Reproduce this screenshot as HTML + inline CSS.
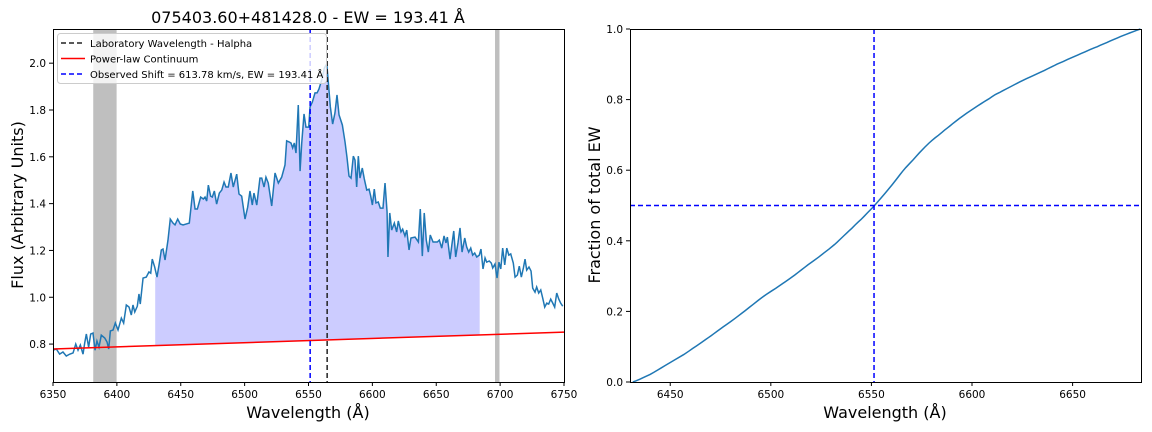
<!DOCTYPE html>
<html><head><meta charset="utf-8"><style>
body{margin:0;background:#fff}
svg{display:block;font-family:"DejaVu Sans","Liberation Sans",sans-serif}
</style></head><body>
<svg id="chart" width="1152" height="432">
<text x="308" y="23" font-size="16" text-anchor="middle">075403.60+481428.0 - EW = 193.41 Å</text>
</svg>
<script>
const wave=[6350.0,6352.6,6355.2,6357.8,6360.4,6363.1,6365.7,6367.8,6369.6,6371.4,6373.5,6374.8,6376.1,6377.9,6379.5,6381.3,6382.9,6384.4,6386.0,6387.8,6390.5,6392.3,6393.6,6394.9,6397.0,6398.8,6400.9,6403.5,6405.3,6407.4,6409.5,6411.3,6412.6,6414.0,6416.0,6417.3,6418.3,6420.5,6423.0,6425.1,6426.5,6427.7,6429.6,6431.4,6433.0,6434.8,6436.1,6437.7,6440.0,6441.8,6443.9,6445.5,6447.6,6449.6,6451.8,6456.7,6459.4,6461.2,6463.0,6465.6,6467.7,6469.0,6470.3,6471.6,6473.4,6474.7,6476.3,6478.1,6480.2,6482.1,6483.9,6485.4,6487.2,6489.3,6491.1,6493.8,6495.6,6497.7,6500.3,6502.4,6504.2,6506.0,6507.3,6509.5,6512.0,6513.4,6515.2,6516.7,6518.5,6521.2,6523.8,6526.4,6529.0,6531.6,6532.9,6535.0,6536.3,6537.6,6538.9,6540.2,6542.0,6543.4,6544.7,6546.5,6548.0,6550.2,6551.2,6553.0,6555.1,6556.7,6558.2,6560.3,6562.4,6564.3,6565.5,6567.1,6568.9,6570.7,6572.3,6573.9,6576.5,6578.6,6580.1,6581.7,6583.3,6585.1,6586.4,6587.7,6589.0,6590.3,6592.1,6593.7,6595.6,6597.4,6598.7,6600.0,6601.5,6602.8,6604.6,6606.2,6608.3,6609.9,6611.5,6612.2,6613.6,6615.1,6617.2,6619.0,6620.3,6622.4,6623.7,6625.5,6626.9,6628.7,6630.2,6633.4,6636.0,6637.5,6639.1,6640.6,6642.2,6643.8,6645.3,6647.5,6650.8,6652.4,6654.3,6656.1,6657.6,6658.7,6660.8,6662.3,6663.7,6665.2,6667.0,6668.6,6670.2,6672.3,6673.8,6675.4,6677.0,6678.5,6680.1,6681.7,6683.7,6685.0,6686.6,6688.2,6689.5,6691.5,6693.1,6694.2,6696.0,6697.6,6699.1,6700.5,6702.0,6703.6,6705.2,6706.8,6708.3,6710.3,6711.7,6713.5,6715.0,6716.6,6718.2,6719.5,6720.8,6722.6,6724.2,6725.5,6727.3,6728.6,6730.2,6731.8,6733.3,6734.9,6736.5,6738.0,6739.6,6741.2,6742.7,6744.3,6745.9,6747.4,6749.0];
const flux=[0.774,0.779,0.757,0.766,0.749,0.757,0.762,0.800,0.774,0.796,0.757,0.804,0.843,0.787,0.843,0.847,0.774,0.813,0.787,0.838,0.826,0.809,0.779,0.856,0.860,0.890,0.860,0.911,0.890,0.967,0.958,0.924,0.967,0.937,0.962,1.014,0.971,1.082,1.086,1.108,1.103,1.163,1.129,1.086,1.138,1.202,1.206,1.159,1.244,1.334,1.317,1.309,1.334,1.313,1.309,1.317,1.454,1.377,1.377,1.428,1.420,1.428,1.411,1.479,1.432,1.428,1.454,1.398,1.445,1.458,1.492,1.471,1.471,1.531,1.471,1.526,1.441,1.432,1.334,1.385,1.454,1.394,1.445,1.394,1.509,1.509,1.471,1.513,1.488,1.390,1.531,1.488,1.513,1.565,1.668,1.663,1.659,1.638,1.659,1.616,1.821,1.539,1.659,1.783,1.727,1.727,1.813,1.834,1.873,1.873,1.890,1.928,1.979,1.997,1.920,1.813,1.740,1.787,1.864,1.779,1.736,1.663,1.599,1.518,1.509,1.603,1.586,1.471,1.603,1.509,1.552,1.505,1.458,1.462,1.432,1.394,1.462,1.403,1.407,1.381,1.381,1.488,1.364,1.172,1.360,1.287,1.317,1.279,1.326,1.279,1.291,1.262,1.287,1.202,1.253,1.257,1.236,1.377,1.176,1.360,1.244,1.193,1.266,1.236,1.236,1.244,1.210,1.262,1.232,1.257,1.163,1.227,1.283,1.172,1.232,1.296,1.193,1.253,1.215,1.193,1.210,1.180,1.189,1.172,1.180,1.206,1.121,1.168,1.150,1.155,1.146,1.125,1.142,1.082,1.150,1.121,1.210,1.138,1.210,1.180,1.185,1.146,1.086,1.095,1.133,1.086,1.125,1.163,1.116,1.129,1.112,1.039,1.022,1.044,1.018,1.031,0.997,0.958,0.975,0.971,0.992,0.975,0.958,1.018,0.992,0.975,0.962];
const contEnds=[0.779,0.851];
const maskBands=[[6381.5,6399.8],[6696,6699.5]];
const fitRange=[6430,6684];
const labWave=[6564.6];
const obsWave=[6551.3];
const leftXTicks=[6350,6400,6450,6500,6550,6600,6650,6700,6750];
const leftYTicks=[0.8,1.0,1.2,1.4,1.6,1.8,2.0];
const rightXTicks=[6450,6500,6550,6600,6650];
const rightYTicks=[0.0,0.2,0.4,0.6,0.8,1.0];

const NS='http://www.w3.org/2000/svg';
const svg=document.getElementById('chart');
function mk(tag,attrs,parent){const e=document.createElementNS(NS,tag);for(const k in attrs)e.setAttribute(k,attrs[k]);(parent||svg).appendChild(e);return e;}
const L={x0:53,x1:564,y0:29,y1:382,xmin:6350,xmax:6750,ymin:0.638,ymax:2.146};
const lx=w=>L.x0+(w-L.xmin)/(L.xmax-L.xmin)*(L.x1-L.x0);
const ly=v=>L.y1-(v-L.ymin)/(L.ymax-L.ymin)*(L.y1-L.y0);
const cont=w=>contEnds[0]+(contEnds[1]-contEnds[0])*(w-L.xmin)/(L.xmax-L.xmin);
const cp=mk('clipPath',{id:'lc'});
mk('rect',{x:L.x0,y:L.y0,width:L.x1-L.x0,height:L.y1-L.y0},cp);
const gL=mk('g',{'clip-path':'url(#lc)'});


maskBands.forEach((b,i)=>{const r=mk('rect',{x:lx(b[0]),y:L.y0,width:lx(b[1])-lx(b[0]),height:L.y1-L.y0,fill:'#bfbfbf'},gL);

});
let pts=[];
wave.forEach((w,i)=>{if(w>=fitRange[0]&&w<=fitRange[1])pts.push([w,flux[i]]);});
let d='M'+lx(fitRange[0])+','+ly(cont(fitRange[0]));
d+=' L'+lx(fitRange[0])+','+ly(pts[0][1]);
pts.forEach(p=>d+=' L'+lx(p[0])+','+ly(p[1]));
d+=' L'+lx(fitRange[1])+','+ly(pts[pts.length-1][1])+' L'+lx(fitRange[1])+','+ly(cont(fitRange[1]))+' Z';
const fa=mk('path',{d:d,fill:'#ccccff',stroke:'none'},gL);


const sl=mk('polyline',{points:wave.map((w,i)=>lx(w)+','+ly(flux[i])).join(' '),fill:'none',stroke:'#1f77b4','stroke-width':1.5},gL);


const cl=mk('line',{x1:lx(L.xmin),y1:ly(cont(L.xmin)),x2:lx(L.xmax),y2:ly(cont(L.xmax)),stroke:'#ff0000','stroke-width':1.5},gL);


const bl=mk('line',{x1:lx(labWave[0]),x2:lx(labWave[0]),y1:L.y0,y2:L.y1,stroke:'#222','stroke-width':1.5,'stroke-dasharray':'5,3'},gL);


const ol=mk('line',{x1:lx(obsWave[0]),x2:lx(obsWave[0]),y1:L.y0,y2:L.y1,stroke:'#0000ff','stroke-width':1.5,'stroke-dasharray':'5,3'},gL);


const lg=mk('g',{});


mk('rect',{x:57.5,y:33.5,width:269,height:50,rx:3,fill:'rgba(255,255,255,0.8)',stroke:'#ccc'},lg);
const legItems=[['Laboratory Wavelength - Halpha','#222','5,3'],['Power-law Continuum','#ff0000',''],['Observed Shift = 613.78 km/s, EW = 193.41 Å','#0000ff','5,3']];
legItems.forEach((it,i)=>{const y=43+i*15.5;
mk('line',{x1:61,x2:85,y1:y,y2:y,stroke:it[1],'stroke-width':1.5,'stroke-dasharray':it[2]},lg);
const t=mk('text',{x:90,y:y+4,'font-size':10},lg);t.textContent=it[0];

});
mk('rect',{x:L.x0+0.5,y:L.y0+0.5,width:L.x1-L.x0,height:L.y1-L.y0,fill:'none',stroke:'#000','stroke-width':1});
leftXTicks.forEach(t=>{const x=lx(t);mk('line',{x1:x,x2:x,y1:L.y1,y2:L.y1+4,stroke:'#000'});const e=mk('text',{x:x,y:L.y1+16,'font-size':10.5,'text-anchor':'middle'});e.textContent=t;

});
leftYTicks.forEach(t=>{const y=ly(t);mk('line',{x1:L.x0-4,x2:L.x0,y1:y,y2:y,stroke:'#000'});const e=mk('text',{x:L.x0-7,y:y+4,'font-size':10.5,'text-anchor':'end'});e.textContent=t.toFixed(1);

});
let e=mk('text',{x:308,y:418,'font-size':16,'text-anchor':'middle'});e.textContent='Wavelength (Å)';


e=mk('text',{x:23,y:205,'font-size':16,'text-anchor':'middle',transform:'rotate(-90 23 205)'});e.textContent='Flux (Arbitrary Units)';



const R={x0:630,x1:1141,y0:29,y1:382,xmin:fitRange[0],xmax:fitRange[1],ymin:0,ymax:1};
const rx=w=>R.x0+(w-R.xmin)/(R.xmax-R.xmin)*(R.x1-R.x0);
const ry=v=>R.y1-(v-R.ymin)/(R.ymax-R.ymin)*(R.y1-R.y0);
let cum=[0],cw=[pts[0][0]],s=0;
for(let i=1;i<pts.length;i++){const a=(pts[i-1][1]/cont(pts[i-1][0])-1),b=(pts[i][1]/cont(pts[i][0])-1);s+=0.5*(a+b)*(pts[i][0]-pts[i-1][0]);cum.push(s);cw.push(pts[i][0]);}
const cf=mk('polyline',{points:cw.map((w,i)=>rx(w)+','+ry(cum[i]/s)).join(' '),fill:'none',stroke:'#1f77b4','stroke-width':1.5});


const hl=mk('line',{x1:R.x0,x2:R.x1,y1:ry(0.5),y2:ry(0.5),stroke:'#0000ff','stroke-width':1.5,'stroke-dasharray':'5,3'});


const vl=mk('line',{x1:rx(obsWave[0]),x2:rx(obsWave[0]),y1:R.y0,y2:R.y1,stroke:'#0000ff','stroke-width':1.5,'stroke-dasharray':'5,3'});


mk('rect',{x:R.x0+0.5,y:R.y0+0.5,width:R.x1-R.x0,height:R.y1-R.y0,fill:'none',stroke:'#000'});
rightXTicks.forEach(t=>{const x=rx(t);mk('line',{x1:x,x2:x,y1:R.y1,y2:R.y1+4,stroke:'#000'});const e=mk('text',{x:x,y:R.y1+16,'font-size':10.5,'text-anchor':'middle'});e.textContent=t;

});
rightYTicks.forEach(t=>{const y=ry(t);mk('line',{x1:R.x0-4,x2:R.x0,y1:y,y2:y,stroke:'#000'});const e=mk('text',{x:R.x0-7,y:y+4,'font-size':10.5,'text-anchor':'end'});e.textContent=t.toFixed(1);

});
e=mk('text',{x:885,y:418,'font-size':16,'text-anchor':'middle'});e.textContent='Wavelength (Å)';


e=mk('text',{x:600,y:205,'font-size':16,'text-anchor':'middle',transform:'rotate(-90 600 205)'});e.textContent='Fraction of total EW';


</script>
</body></html>
